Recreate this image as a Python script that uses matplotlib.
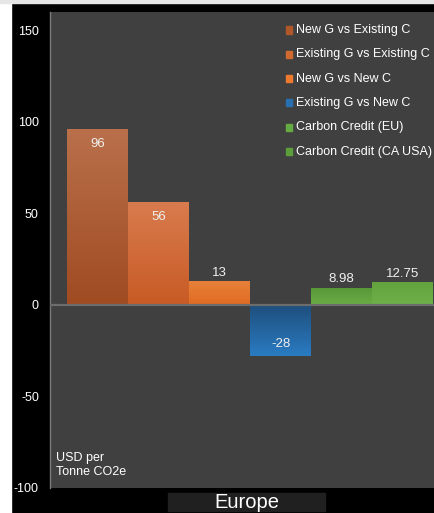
import numpy as np
import matplotlib
matplotlib.use("Agg")
import matplotlib.pyplot as plt
from matplotlib.patches import Rectangle
from matplotlib.colors import LinearSegmentedColormap

plt.rcParams['font.family'] = ['Liberation Sans', 'DejaVu Sans']

# data
series = ['New G vs Existing C', 'Existing G vs Existing C', 'New G vs New C',
          'Existing G vs New C', 'Carbon Credit (EU)', 'Carbon Credit (CA USA)']
values = [96, 56, 13, -28, 8.98, 12.75]
labels = ['96', '56', '13', '-28', '8.98', '12.75']
category = 'Europe'
yticks = [-100, -50, 0, 50, 100, 150]

# gradient colours (top, bottom) and legend swatches
grad = [('#b9704b', '#a04b22'),
        ('#d87b4e', '#c85b25'),
        ('#e8803a', '#e06b22'),
        ('#1e4e7c', '#2a7bc2'),
        ('#5b9838', '#6aad46'),
        ('#63a33e', '#6fb04a')]
swatch = ['#b0582a', '#d06a30', '#ee7a30', '#2870b0', '#66aa44', '#5c9e3c']

W, H = 434, 513
fig = plt.figure(figsize=(W / 100, H / 100), dpi=100)
fig.patch.set_facecolor('black')
# white / light strips round the picture
fig.patches.append(Rectangle((0, 0), 11 / W, 1, transform=fig.transFigure, color='white', zorder=0))
fig.patches.append(Rectangle((0, 1 - 3 / H), 1, 3 / H, transform=fig.transFigure, color='#e6e6e6', zorder=0))

ax = fig.add_axes([50 / W, 25 / H, 384 / W, 476 / H])
ax.set_facecolor('#404040')
left = -0.5 - 17 / 61

for i, v in enumerate(values):
    x0, x1 = i - 0.5, i + 0.5
    y0, y1 = min(0, v), max(0, v)
    cmap = LinearSegmentedColormap.from_list('g%d' % i, [grad[i][1], grad[i][0]])
    im = ax.imshow(np.linspace(0, 1, 64).reshape(-1, 1), cmap=cmap, origin='lower',
                   extent=[x0, x1, y0, y1], aspect='auto', zorder=2)
    rect = Rectangle((x0, y0), 1, y1 - y0, transform=ax.transData, fill=False, lw=0)
    ax.add_patch(rect)
    im.set_clip_path(rect)

ax.set_xlim(left, left + 384 / 61)
ax.set_ylim(-100, 160)

ax.axhline(0, color='#6c6c6c', lw=1.6, zorder=3)

# value labels (inside for the two tall bars and the negative one)
offs = [-15, -15, 8, 12, 9, 8]
for i, v in enumerate(values):
    ax.annotate(labels[i], (i, v), xytext=(0, offs[i]), textcoords='offset pixels',
                ha='center', va='center', color='#f0f0f0', fontsize=9.5, zorder=4)

ax.set_yticks(yticks)
ax.set_yticklabels([str(t) for t in yticks])
ax.tick_params(axis='y', length=0, pad=8, colors='white', labelsize=9)
ax.set_xticks([])
for s in ['top', 'right', 'bottom']:
    ax.spines[s].set_visible(False)
ax.spines['left'].set_color('#7a7a7a')
ax.spines['left'].set_linewidth(1)

ax.text(6 / 384, 23 / 476, 'USD per\nTonne CO2e', transform=ax.transAxes,
        color='white', fontsize=9, ha='left', va='center', linespacing=1.15)

# legend drawn by hand
for i, name in enumerate(series):
    yc = 30 + 24.3 * i
    fig.patches.append(Rectangle((286 / W, 1 - (yc + 3.5) / H), 6 / W, 7 / H,
                                 transform=fig.transFigure, color=swatch[i], zorder=5))
    fig.text(296 / W, 1 - yc / H, name, color='white', fontsize=9, ha='left', va='center')

# category label box
fig.patches.append(Rectangle((168 / W, 2 / H), 157 / W, 18 / H, transform=fig.transFigure,
                             color='#202020', zorder=1))
fig.text(247 / W, 1 - 502 / H, category, color='white', fontsize=14.5, ha='center', va='center')

fig.savefig('out.png', dpi=100, facecolor=fig.get_facecolor())
